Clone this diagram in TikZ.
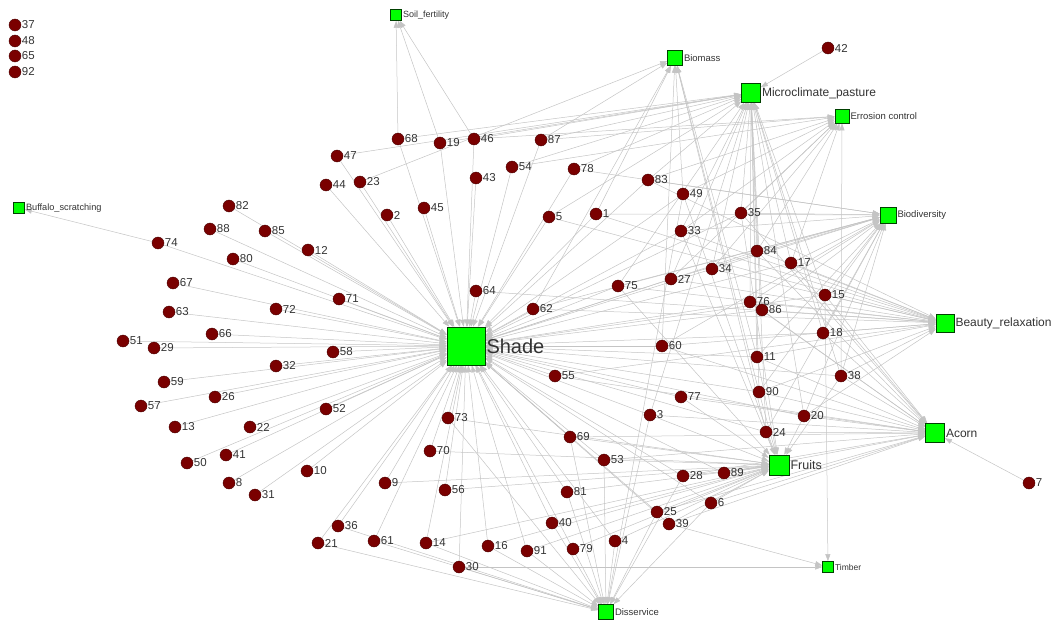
\documentclass[tikz,border=0pt]{standalone}
\usepackage{fontspec}
\setmainfont{Liberation Sans}
\usetikzlibrary{arrows.meta}

\definecolor{nodered}{RGB}{122,0,0}
\definecolor{edgegray}{RGB}{196,196,196}
\definecolor{svcgreen}{RGB}{0,255,0}

\pgfdeclarelayer{bg}
\pgfsetlayers{bg,main}

\begin{document}
\begin{tikzpicture}[
            x=1pt, y=-1pt,
            >={Triangle[length=7pt,width=5pt]},
            act/.style={
				circle,
				draw=nodered!60!black,
				fill=nodered,
				minimum size=12pt,
				inner sep=0pt,
				line width=0.4pt
			},
            svc/.style={
				rectangle,
				draw=green!25!black,
				fill=svcgreen,
				minimum size=#1,
				inner sep=0pt,
				line width=0.6pt
			},
            num/.style={
				font=\fontsize{11.5}{12}\selectfont,
				text=black!80,
				inner sep=0.5pt,
				anchor=west
			},
            big/.style={
				font=\fontsize{12}{13}\selectfont,
				text=black!80,
				inner sep=1pt,
				anchor=west
			},
            small/.style={
				font=\fontsize{9.5}{10}\selectfont,
				text=black!80,
				inner sep=1pt,
				anchor=west
			},
            link/.style={
				draw=edgegray,
				line width=0.5pt,
				->
			}
        ]

        \useasboundingbox (0,0) rectangle (1052,623);

        % services
        \node (shade) [svc=38pt, label={[big, font=\fontsize{20}{22}\selectfont]east:Shade}] at (466,346) {};
        \node (soil) [svc=11pt, label={[small, font=\fontsize{9}{10}\selectfont]east:Soil\_fertility}] at (396,15) {};
        \node (biomass) [svc=15pt, label={[small]east:Biomass}] at (675,58) {};
        \node (micro) [svc=19pt, label={[big]east:Microclimate\_pasture}] at (751,93) {};
        \node (erosion) [svc=14pt, label={[small]east:Errosion control}] at (842,116) {};
        \node (biodiv) [svc=16pt, label={[small]east:Biodiversity}] at (888,215) {};
        \node (beauty) [svc=18pt, label={[big]east:Beauty\_relaxation}] at (945,323) {};
        \node (acorn) [svc=19pt, label={[big]east:Acorn}] at (935,433) {};
        \node (fruits) [svc=20pt, label={[big, font=\fontsize{12.5}{13}\selectfont]east:Fruits}] at (779,465) {};
        \node (timber) [svc=11pt, label={[small, font=\fontsize{8.5}{9}\selectfont]east:Timber}] at (828,567) {};
        \node (disserv) [svc=15pt, label={[small, font=\fontsize{9.5}{10}\selectfont]east:Disservice}] at (606,612) {};
        \node (buffalo) [svc=11pt, label={[small, font=\fontsize{9.2}{10}\selectfont]east:Buffalo\_scratching}] at (19,208) {};

        % trees
        \foreach \n/\x/\y in {37/15/25, 48/15/41, 65/15/56, 92/15/72, 42/828/48,
            68/398/139, 19/440/143, 46/474/139, 47/337/156, 44/326/185, 23/360/182,
            45/424/208, 2/387/215, 43/476/178, 54/512/167, 87/541/140, 78/574/169,
            83/648/180, 49/683/194, 5/549/217, 1/596/214, 33/681/231, 35/741/213,
            84/757/251, 34/712/269, 27/671/279, 75/618/286, 62/533/309, 64/476/291,
            17/791/263, 76/750/302, 86/762/310, 15/825/295, 18/823/333, 60/662/346,
            55/555/376, 11/757/357, 90/759/392, 77/681/397, 38/841/376, 3/650/415,
            20/804/416, 24/766/432, 69/570/437, 53/604/460, 28/683/476, 89/724/473,
            81/567/492, 6/711/503, 25/657/512, 39/669/524, 40/552/523, 4/615/541,
            79/573/549, 91/527/551, 7/1029/483,
            82/229/206, 88/210/229, 85/265/231, 12/308/250, 80/233/259, 74/158/243,
            71/339/299, 67/173/283, 72/276/309, 63/169/312, 66/212/334, 51/123/341,
            29/154/348, 58/333/352, 32/276/366, 59/164/382, 26/215/397, 57/141/406,
            52/326/409, 13/175/427, 22/250/427, 41/226/455, 50/187/463, 8/229/483,
            31/255/495, 10/307/471,
            73/448/418, 70/430/451, 9/385/483, 56/445/490, 36/338/526, 21/318/543,
            61/374/541, 14/426/543, 16/488/546, 30/459/567}
            \node (n\n) [act, label={[num]east:\n}] at (\x,\y) {};

        \begin{pgfonlayer}{bg}
        \foreach \s in {68,19,46,47,44,23,45,2,43,54,87,78,83,49,5,1,33,35,84,34,27,75,62,64,
            17,76,86,15,18,60,55,11,90,77,38,3,20,24,69,53,28,89,81,6,25,39,40,4,79,91,
            82,88,85,12,80,74,71,67,72,63,66,51,29,58,32,59,26,57,52,13,22,41,50,8,31,10,
            73,70,9,56,36,21,61,14,16,30}
            \draw [link] (n\s) -- (shade);
        \foreach \s in {68,19,46}
            \draw [link] (n\s) -- (soil);
        \foreach \s in {23,87,1,60,49,90,11,24,62}
            \draw [link] (n\s) -- (biomass);
        \foreach \s in {42,68,47,19,46,54,87,78,83,5,33,35,34,27,84,17,76,86,11,90,24,20,15,18,38,3,75}
            \draw [link] (n\s) -- (micro);
        \foreach \s in {46,87,54,83,49,33,35,34,84,17,38,27}
            \draw [link] (n\s) -- (erosion);
        \foreach \s in {1,78,83,35,33,84,17,34,27,75,62,15,18,38,20,24,76,86,11,90,60}
            \draw [link] (n\s) -- (biodiv);
        \foreach \s in {64,62,75,27,34,84,17,76,86,15,18,11,38,60,55,90,20,1,33,83,5}
            \draw [link] (n\s) -- (beauty);
        \foreach \s in {7,24,20,38,15,18,86,76,77,3,69,53,28,89,6,25,39,60,55,11,90,17,84,35}
            \draw [link] (n\s) -- (acorn);
        \foreach \s in {69,53,28,89,81,6,25,39,40,4,79,91,24,20,38,90,11,3,77,16,14,56,9,70,73,75,33,35,49}
            \draw [link] (n\s) -- (fruits);
        \foreach \s in {39,30,15}
            \draw [link] (n\s) -- (timber);
        \foreach \s in {21,61,36,30,73,81,79,4,3,25,28,6,53,69,91,16,49,40,14}
            \draw [link] (n\s) -- (disserv);
        \draw [link] (n74) -- (buffalo);
        \end{pgfonlayer}

        \end{tikzpicture}
\end{document}
